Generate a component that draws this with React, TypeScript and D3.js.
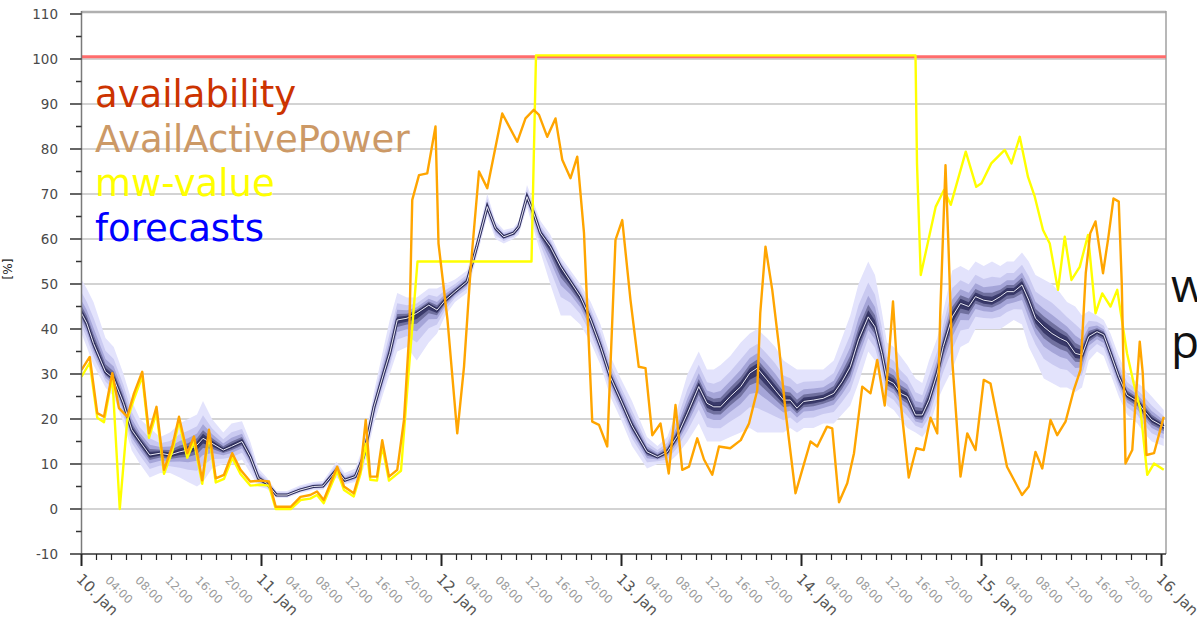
import React from "react";
import * as d3 from "d3";

const W = 1197;
const H = 620;

const startDate = Date.UTC(2022, 0, 10);
const endHour = 144.6;

const yTicks = [-10, 0, 10, 20, 30, 40, 50, 60, 70, 80, 90, 100, 110];

const legendLabels = ["availability", "AvailActivePower", "mw-value", "forecasts"];
const legendColors = ["#cc3300", "#cc9966", "#ffff00", "#0000ff"];
const sideWords = ["w", "p"];

const availability = [[0, 100.5], [144.6, 100.5]];

const availActivePower = [
  [0, 30.9], [1.1, 33.8], [2.1, 21.3], [3, 20.5], [4.1, 30.2], [5, 22.4], [6.1, 20.5], [7, 25.7], [8.1, 30.5], [9, 16.8],
  [10, 22.7], [11, 8.7], [12.1, 13.9], [13, 20.5], [14.1, 12.4], [15, 16.1], [16.1, 6.4], [17, 17.6], [17.9, 6.8], [19, 7.6],
  [20.1, 12.4], [21.2, 8.7], [22.5, 6.1], [23.9, 6.3], [25, 6.1], [25.9, 0.5], [27.9, 0.5], [29.2, 2.7], [30.5, 3.1], [31.4, 3.9],
  [32.3, 2], [34.1, 9.4], [35, 5], [36.3, 3.5], [37.2, 8.7], [37.9, 19.8], [38.5, 7.2], [39.4, 7.2], [40.1, 15.3], [41, 7.2],
  [42.1, 8.7], [43, 19.8], [43.7, 39], [44.1, 68.7], [45, 74.2], [46.1, 74.6], [47.2, 85], [47.6, 59], [48.8, 42], [50.1, 16.8],
  [51, 31.6], [51.9, 53.8], [53, 75], [54.1, 71.3], [56.1, 87.9], [58.1, 81.6], [59.2, 86.8], [60.3, 88.7], [61, 87.6], [62.1, 82.7],
  [63.2, 86.8], [64.1, 77.6], [65.2, 73.5], [66.1, 78.3], [67, 61.3], [68.1, 19.4], [69, 18.7], [70.1, 13.9], [71.2, 59.8], [72.1, 64.2],
  [73.2, 46.4], [74.3, 31.6], [75.2, 31.3], [76.1, 16.4], [77.2, 19], [78.3, 7.9], [79.2, 23.1], [80.1, 8.7], [81, 9.4], [82.1, 15.7],
  [83, 11], [84.1, 7.6], [85, 13.9], [86.5, 13.5], [87.9, 15.3], [89, 19], [90.1, 26.4], [90.5, 43.5], [91.2, 58.3], [92.1, 48.7],
  [93, 36.1], [93.9, 21.3], [95.2, 3.5], [96.1, 8.7], [97.2, 15], [98.1, 13.9], [99.4, 18.3], [100.1, 17.9], [101, 1.5], [102.1, 5.7],
  [103, 12.4], [104.1, 27.2], [105.2, 25.7], [106.1, 33.1], [107.1, 23], [107.7, 35], [108.2, 46.1], [108.8, 30], [109.2, 24], [110.3, 7],
  [111.3, 13.5], [112.3, 13.1], [113.2, 20.3], [114.1, 16.8], [114.5, 43.5], [115.2, 76.4], [115.6, 58.3], [116.1, 33.1], [117.2, 7.2], [118.1, 16.8],
  [119.2, 13.1], [120.3, 28.7], [121.2, 27.9], [123.4, 9.4], [125.4, 3.1], [126.3, 5], [127.2, 12.7], [128.1, 9], [129.2, 19.8], [130.1, 16.4],
  [131.2, 19.4], [132.3, 26.4], [133.2, 30.9], [133.9, 52.4], [134.5, 61.3], [135.2, 63.9], [136.2, 52.4], [136.9, 60.2], [137.6, 69], [138.3, 68.3],
  [138.7, 50.2], [139.2, 10.1], [140.1, 13.1], [141.1, 37.2], [141.5, 30.2], [142, 12], [143, 12.4], [144.3, 20.5],
];

const mwValue = [
  [0, 29.4], [1.1, 32.5], [2.1, 20.3], [3, 19.3], [4.1, 29.5], [5.1, 0], [6.1, 19.8], [7, 24.5], [8.1, 29.5], [9, 15.8],
  [10, 21.5], [11, 7.8], [12.1, 12.8], [13, 19.5], [14.1, 11.4], [15, 15], [16.1, 5.6], [17, 16.5], [17.9, 5.9], [19, 6.7],
  [20.1, 11.4], [21.2, 7.8], [22.5, 5.2], [23.9, 5.4], [25, 5.2], [25.9, 0], [27.9, 0], [29.2, 2], [30.5, 2.3], [31.4, 3.1],
  [32.3, 1.3], [34.1, 8.5], [35, 4.2], [36.3, 2.8], [37.2, 7.8], [37.9, 14.5], [38.5, 6.5], [39.4, 6.3], [40.1, 14], [41, 6.3],
  [42.1, 7.8], [42.6, 8.5], [43.6, 30], [44.8, 55], [60, 55], [60.6, 100.8], [111.2, 100.8], [111.4, 76.8], [111.9, 52], [113.9, 67.2],
  [115, 70.9], [115.9, 67.6], [117.9, 79.4], [119.3, 71.6], [120, 72.4], [121.3, 76.8], [123.1, 79.8], [124, 76.8], [125.1, 82.7], [126.2, 73.8],
  [127.1, 69.4], [128.2, 62], [129.1, 59], [130.2, 48.7], [131.1, 60.5], [132, 50.9], [133.1, 53.8], [134.2, 60.9], [135.2, 43.5], [136.1, 47.9],
  [137.2, 45], [138.1, 48.7], [139.4, 34.6], [140.3, 27.9], [141.2, 22], [142.1, 7.6], [143, 10.1], [144.3, 8.7],
];

const fcHours = [
  0, 0.7, 1.6, 3.2, 4.3, 5.6, 6.7, 7.8, 9.1, 10.5,
  11.8, 13.1, 14.2, 15.4, 16.2, 17.4, 18.9, 20, 21.4, 22.5,
  23.6, 24.7, 26, 27.4, 29.1, 30.9, 32.2, 34, 35.1, 36.5,
  37.6, 39, 40.3, 41.1, 42.1, 43.4, 44.7, 46.3, 47.4, 48.5,
  49.8, 51.4, 52.7, 54.1, 55.2, 56.3, 57.6, 58.3, 59.4, 60.3,
  61.2, 62.5, 63.9, 65.2, 66.5, 67.9, 69.2, 70.5, 71.9, 73.4,
  75.4, 76.8, 78.1, 79.4, 80.8, 82.3, 83.4, 84.3, 85.2, 86.5,
  87.9, 89.1, 90.1, 91.4, 92.5, 93.6, 94.5, 95.4, 96.3, 97.6,
  98.9, 100.3, 101.4, 102.5, 103.6, 104.9, 105.8, 106.7, 107.4, 108.3,
  109.2, 110.1, 111.2, 112.1, 113, 114.1, 114.9, 116.1, 117.2, 118.3,
  119.2, 120.3, 121.4, 122.5, 123.4, 124.3, 125.4, 126.3, 127.2, 128.3,
  129.4, 130.5, 131.4, 132.5, 133.4, 134.3, 135.4, 136.3, 137.2, 138.3,
  139.4, 140.8, 141.6, 142.7, 144.3,
];
const fcMedian = [
  43.5, 41.3, 36.8, 30.5, 29, 23.5, 17.6, 15, 12, 12.4,
  12, 12.7, 13.1, 14.2, 15.7, 14.6, 13.1, 13.9, 15, 11.6,
  6.8, 5.7, 3.1, 3.1, 4.2, 5, 5.1, 8.7, 6.4, 7.2,
  11.6, 22.7, 30.2, 34.6, 42, 42.4, 43.5, 45.3, 44.2, 46.4,
  48.3, 50.5, 58.3, 67.2, 62.4, 60.5, 61.3, 62.7, 69.4, 65.7,
  61.3, 58.3, 53.8, 50.5, 47.2, 42, 36.1, 29.4, 24.2, 18.5,
  12.7, 11.6, 12.7, 16.1, 21.3, 27.2, 23.5, 22.7, 22.7, 25,
  27.2, 30.2, 31.3, 28.7, 26.4, 24.2, 24.2, 22.4, 23.9, 24.2,
  24.6, 25.7, 28.3, 31.6, 37.6, 42.7, 40.5, 34.6, 28.7, 27.9,
  25.7, 25, 20.9, 20.9, 24.2, 30.2, 36.1, 42.7, 45.7, 45,
  47.2, 46.4, 46.1, 47.2, 48.3, 48.3, 49.8, 46.4, 42.4, 40.5,
  39, 37.9, 37.2, 34.6, 34.2, 38.3, 39.4, 38.7, 34.6, 29.4,
  25.3, 23.9, 22, 19.8, 18.3,
];
const fcLow = [
  39, 36, 32, 27, 25, 19, 13, 10, 7, 8,
  8, 7, 6, 5, 6, 9, 10, 10, 11, 8,
  5, 4.5, 2.5, 2.5, 3.5, 4.2, 4.3, 7, 5.5, 6,
  9, 19, 26, 30, 35, 36, 33, 37, 39, 43,
  46, 48, 56, 65, 60, 59, 60, 61, 67, 62,
  57, 50, 43, 43, 41, 37, 32, 25, 20, 14,
  9, 10, 10, 12, 15, 19, 15, 15, 15, 16,
  17, 18, 17, 17, 17, 17, 18, 17, 18, 18,
  19, 19, 21, 23, 28, 35, 33, 28, 23, 22,
  20, 18, 17, 16, 18, 24, 27, 31, 36, 37,
  40, 40, 40, 40, 41, 42, 41, 36, 33, 29,
  28, 27, 27, 26, 27, 33, 35, 34, 30, 25,
  21, 19, 17, 15, 14,
];
const fcHigh = [
  51, 49, 46, 38, 36, 30, 24, 20, 18, 16,
  17, 19, 20, 21, 24, 20, 17, 19, 19.5, 15,
  9, 7, 4, 4, 5.2, 6, 6.2, 10.5, 8, 9,
  14, 26, 36, 42, 48, 47, 47, 49, 49, 50,
  51, 53, 60, 70, 64, 62, 62.5, 64, 72, 68,
  64, 61, 56, 53, 50, 46, 41, 34, 29, 24,
  16, 14, 16, 22, 30, 35, 31, 31, 32, 34,
  37, 39, 40, 38, 36, 33, 32, 31, 31, 31,
  31, 33, 38, 43, 50, 55, 52, 44, 37, 36,
  34, 32, 29, 28, 33, 38, 44, 53, 54, 53,
  55, 54, 55, 54, 55, 55, 57, 55, 52, 51,
  50, 48, 46, 45, 43, 44, 43, 42, 39, 34,
  30, 28, 27, 25, 22,
];

const bandFractions = [1, 0.62, 0.38, 0.22, 0.12];
const bandColors = ["#e3e3fc", "#cacaf1", "#a5a5d8", "#70709f", "#3a3a6a"];

const toDate = (h: number) => new Date(startDate + h * 3600 * 1000);

export default function App() {
  const left = 81.5;
  const right = 1166;
  const top = 14;
  const bottom = 554;

  const x = d3.scaleUtc().domain([toDate(0), toDate(endHour)]).range([left, right]);
  const y = d3.scaleLinear().domain([-10, 110]).range([bottom, top]);

  const line = d3
    .line<number[]>()
    .x((d) => x(toDate(d[0])))
    .y((d) => y(d[1]));

  const fc = fcHours.map((h, i) => ({ h, m: fcMedian[i], lo: fcLow[i], hi: fcHigh[i] }));
  const bands = bandFractions.map((f) =>
    d3
      .area<{ h: number; m: number; lo: number; hi: number }>()
      .x((d) => x(toDate(d.h)))
      .y0((d) => y(d.m - f * (d.m - d.lo)))
      .y1((d) => y(d.m + f * (d.hi - d.m)))(fc)
  );
  const medianPath = d3
    .line<{ h: number; m: number }>()
    .x((d) => x(toDate(d.h)))
    .y((d) => y(d.m))(fc);

  const minorTicks = x.ticks(d3.utcHour.every(2)!);
  const dayFmt = d3.utcFormat("%-d. %b");
  const hourFmt = d3.utcFormat("%H:%M");

  const minorY = d3.range(-5, 110, 10);

  return (
    <svg
      width={W}
      height={H}
      style={{ position: "absolute", left: 0, top: 0, background: "#fff" }}
      fontFamily="DejaVu Sans, Verdana, sans-serif"
    >
      <defs>
        <clipPath id="plot">
          <rect x={left} y={top} width={right - left} height={bottom - top} />
        </clipPath>
      </defs>

      {/* grid */}
      {yTicks.filter((t) => t > -10 && t < 110).map((t) => (
        <line key={t} x1={left} x2={right} y1={y(t)} y2={y(t)} stroke="#c4c4c4" strokeWidth={1.5} />
      ))}
      {/* frame */}
      <line x1={left} x2={right} y1={12} y2={12} stroke="#b0b0b0" strokeWidth={2.5} />
      <line x1={right} x2={right} y1={11} y2={bottom} stroke="#a0a0a0" strokeWidth={1.5} />

      <g clipPath="url(#plot)">
        {bands.map((p, i) => (
          <path key={i} d={p || ""} fill={bandColors[i]} stroke="none" />
        ))}
        <path d={medianPath || ""} fill="none" stroke="#2e2e5c" strokeWidth={3} />
        <path d={medianPath || ""} fill="none" stroke="#e8e8f4" strokeWidth={1} />
        <path d={line(availability) || ""} fill="none" stroke="#ff6c6c" strokeWidth={3} />
        <path d={line(mwValue) || ""} fill="none" stroke="#ffff00" strokeWidth={2.4} strokeLinejoin="round" />
        <path d={line(availActivePower) || ""} fill="none" stroke="#ffa500" strokeWidth={2.4} strokeLinejoin="round" />
      </g>

      {/* y axis */}
      <line x1={left} x2={left} y1={11} y2={bottom} stroke="#7a7a7a" strokeWidth={1.5} />
      {yTicks.map((t) => (
        <g key={t}>
          <line x1={70} x2={left} y1={y(t)} y2={y(t)} stroke="#333" strokeWidth={1.5} />
          <text x={58} y={y(t)} dy="0.36em" textAnchor="end" fontSize={13.5} fill="#4a4a4a">
            {t}
          </text>
        </g>
      ))}
      {minorY.map((t) => (
        <line key={t} x1={76} x2={left} y1={y(t)} y2={y(t)} stroke="#333" strokeWidth={1.5} />
      ))}
      <text transform="translate(12,269) rotate(-90)" textAnchor="middle" fontSize={12} fill="#222">
        [%]
      </text>

      {/* x axis */}
      <line x1={left} x2={right} y1={bottom} y2={bottom} stroke="#333" strokeWidth={1.5} />
      {minorTicks.map((d) => {
        const hr = d.getUTCHours();
        const xx = x(d);
        const isDay = hr === 0;
        return (
          <g key={+d}>
            <line x1={xx} x2={xx} y1={bottom} y2={isDay ? bottom + 12 : bottom + 6} stroke="#222" strokeWidth={isDay ? 2 : 1.2} />
            {isDay ? (
              <text transform={`translate(${xx - 6},${bottom + 26}) rotate(45)`} fontSize={15} fill="#555">
                {dayFmt(d)}
              </text>
            ) : hr % 4 === 0 ? (
              <text transform={`translate(${xx - 7},${bottom + 27}) rotate(45)`} fontSize={11.5} fill="#9a9a9a">
                {hourFmt(d)}
              </text>
            ) : null}
          </g>
        );
      })}

      {/* legend */}
      {legendLabels.map((l, i) => (
        <text key={l} x={95} y={107 + i * 44.5} fontSize={37} fill={legendColors[i]}>
          {l}
        </text>
      ))}

      {/* side text */}
      {sideWords.map((w, i) => (
        <text key={w} x={1171} y={302 + i * 56} fontSize={46} fill="#111" fontFamily="Open Sans, sans-serif">
          {w}
        </text>
      ))}
    </svg>
  );
}
